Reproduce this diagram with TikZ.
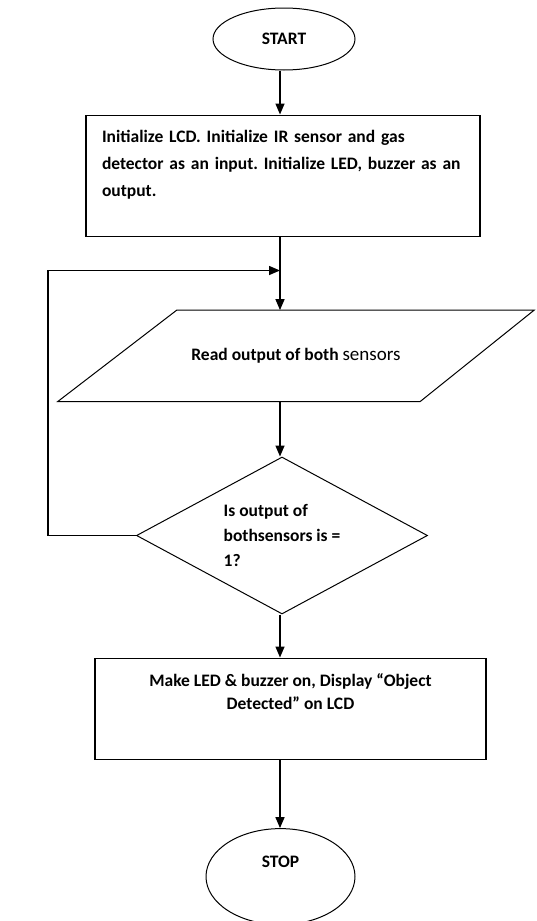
\documentclass[tikz,border=0pt]{standalone}
\usepackage{fontspec}
\setmainfont{Carlito}
\usetikzlibrary{arrows.meta,shapes.geometric,positioning,calc}
\frenchspacing

\begin{document}
\begin{tikzpicture}[
    node distance=40pt,
    txt/.style={font=\fontsize{17.5}{27}\selectfont\bfseries},
    term/.style={ellipse, draw, line width=1pt, txt, align=center, inner sep=0pt},
    proc/.style={rectangle, draw, line width=1.6pt, txt, inner sep=0pt},
    inout/.style={rectangle, txt, minimum width=476pt, minimum height=91pt, inner sep=0pt},
    decide/.style={diamond, draw, line width=1pt, font=\fontsize{17.5}{25}\selectfont\bfseries, aspect=1.85, minimum width=291pt, minimum height=157pt, align=left, inner sep=0pt},
    arr/.style={-{Triangle[length=11pt,width=9pt]}, line width=1.5pt}
]
    \useasboundingbox (0,0) rectangle (536pt,-921pt);

    \node[term, minimum width=142pt, minimum height=62pt] (start) at (284pt,-39pt) {START};
    \node[proc, below=44pt of start, xshift=-1pt, minimum width=394pt, minimum height=121pt, text width=362pt, align=left] (init)
        {\frenchspacing Initialize LCD. Initialize IR sensor and gas\\ detector as an input. Initialize LED, buzzer as an\\ output.\\[-2pt]\mbox{}};
    \node[inout, below=73pt of init, xshift=13pt] (read)
        {Read output of both {\mdseries\fontsize{19}{27}\selectfont sensors}\\[2pt]\mbox{}};
    \node[decide, below=55pt of read, xshift=-14pt] (check)
        {Is output of\\ bothsensors is =\\ 1?};
    \node[proc, below=43pt of check, xshift=8.5pt, minimum width=391pt, minimum height=101pt, align=center, font=\fontsize{17.5}{23}\selectfont\bfseries] (act)
        {Make LED \& buzzer on, Display “Object\\ Detected” on LCD\\[11pt]\mbox{}};
    \node[term, below=68pt of act, xshift=-10pt, minimum width=149pt, minimum height=96pt] (stop) {STOP\\[2pt]\mbox{}};

    % slanted outline of the input box
    \draw[line width=1pt] ($(read.north west)+(119pt,0)$) -- (read.north east)
        -- ($(read.south east)+(-114pt,0)$) -- (read.south west) -- cycle;

    % vertical flow line and loop-back corner
    \coordinate (spine) at (280pt,0);
    \coordinate (back) at (48pt,0);
    \coordinate (merge) at (280pt,-270.5pt);

    \draw[arr] (start.south -| spine) -- (init.north -| spine);
    \draw[arr] (init.south -| spine) -- (read.north -| spine);
    \draw[arr] (read.south -| spine) -- (check.north -| spine);
    \draw[arr] (check.south -| spine) -- (act.north -| spine);
    \draw[arr] (act.south -| spine) -- (stop.north -| spine);
    \draw[arr] (check.west) -- (check.west -| back) |- (merge);
\end{tikzpicture}
\end{document}
